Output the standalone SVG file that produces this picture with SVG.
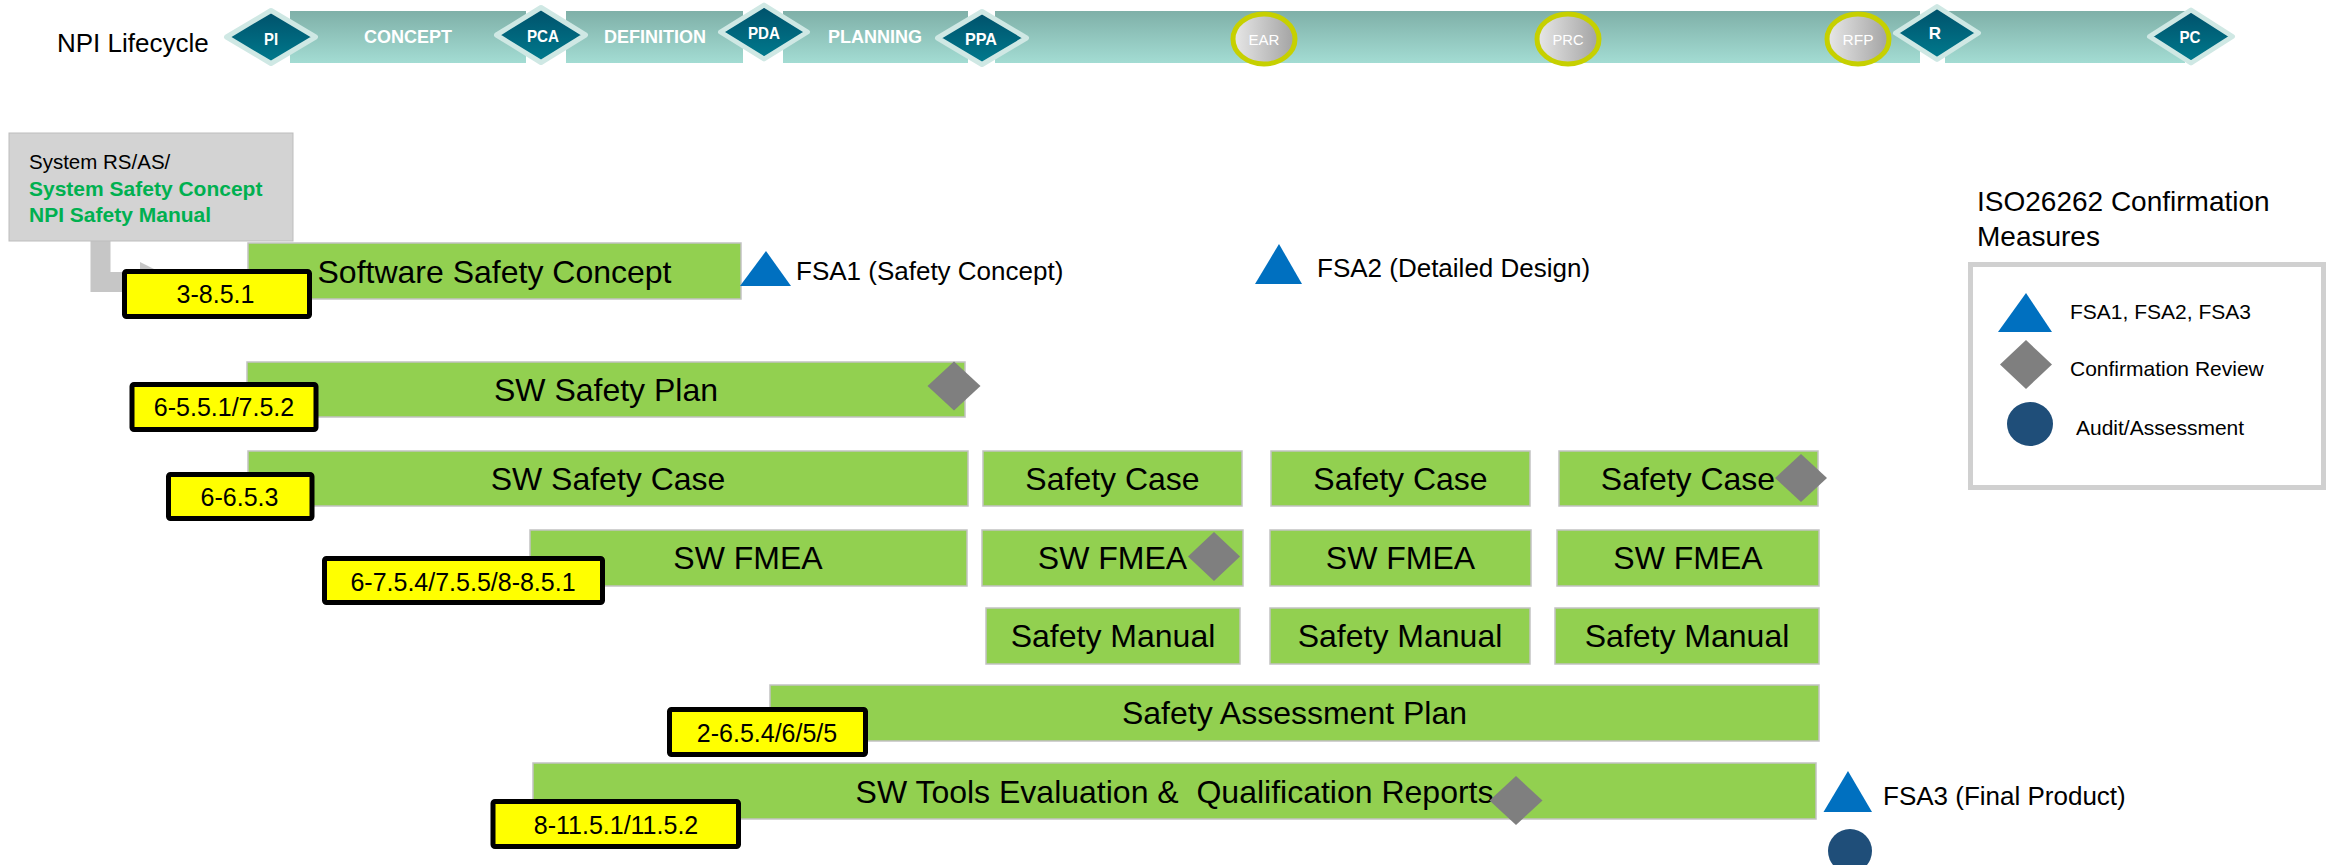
<svg xmlns="http://www.w3.org/2000/svg" width="2328" height="865" viewBox="0 0 2328 865">
  <defs>
    <linearGradient id="band" x1="0" y1="0" x2="0" y2="1">
      <stop offset="0" stop-color="#7fb0a8"/>
      <stop offset="1" stop-color="#a3dcd3"/>
    </linearGradient>
    <linearGradient id="dia" x1="0" y1="0" x2="0" y2="1">
      <stop offset="0" stop-color="#00506a"/>
      <stop offset="1" stop-color="#007b8e"/>
    </linearGradient>
    <linearGradient id="gate" x1="0" y1="0" x2="1" y2="0">
      <stop offset="0" stop-color="#e8e8e8"/>
      <stop offset="1" stop-color="#a2a2a2"/>
    </linearGradient>
    <marker id="blockArrow" markerUnits="userSpaceOnUse" markerWidth="40" markerHeight="40" viewBox="0 0 40 40" refX="0" refY="20" orient="auto">
      <path d="M0,0 L40,20 L0,40 z" fill="#c6c6c6"/>
    </marker>
    <style>
      text { font-family: "Liberation Sans", Arial, sans-serif; }
      .band { fill: url(#band); }
      .ms { fill: url(#dia); stroke: #cfe8e4; stroke-width: 5; stroke-linejoin: round; }
      .msl { font-size: 17px; font-weight: bold; fill: #ffffff; text-anchor: middle; }
      .phase { font-size: 18px; font-weight: bold; fill: #ffffff; text-anchor: middle; }
      .gate { fill: url(#gate); stroke: #c6d000; stroke-width: 5; }
      .gl { font-size: 15px; fill: #ffffff; text-anchor: middle; }
      .bar { fill: #92d050; stroke: #c2c2c2; stroke-width: 1.5; }
      .bt { font-size: 32px; fill: #000000; text-anchor: middle; }
      .tag { fill: #ffff00; stroke: #000000; stroke-width: 5; stroke-linejoin: round; }
      .tt { font-size: 25px; fill: #000000; text-anchor: middle; }
      .cr { fill: #7f7f7f; }
      .fsa { fill: #0070c0; }
      .aud { fill: #1f4e79; }
      .note { font-size: 26px; fill: #000000; }
      .leg { font-size: 21px; fill: #000000; }
    </style>
  </defs>

  <rect width="2328" height="865" fill="#ffffff"/>

  <!-- lifecycle timeline -->
  <g id="lifecycle">
    <text x="57" y="52" font-size="26">NPI Lifecycle</text>
    <rect class="band" x="290" y="11" width="236" height="52"/>
    <rect class="band" x="566" y="11" width="177" height="52"/>
    <rect class="band" x="783" y="11" width="185" height="52"/>
    <rect class="band" x="995" y="11" width="925" height="52"/>
    <rect class="band" x="1945" y="11" width="240" height="52"/>
    <text class="phase" x="408" y="43">CONCEPT</text>
    <text class="phase" x="655" y="43">DEFINITION</text>
    <text class="phase" x="875" y="43">PLANNING</text>

    <g id="ms-pi"><path class="ms" d="M226.5,37 L271,10.5 L315.5,37 L271,63.5 z"/><text class="msl" x="271" y="45" textLength="14" lengthAdjust="spacingAndGlyphs">PI</text></g>
    <g id="ms-pca"><path class="ms" d="M496.5,35 L541,7.5 L585.5,35 L541,62.5 z"/><text class="msl" x="543" y="42" textLength="32" lengthAdjust="spacingAndGlyphs">PCA</text></g>
    <g id="ms-pda"><path class="ms" d="M720.5,32 L764,5 L807.5,32 L764,59 z"/><text class="msl" x="764" y="39" textLength="32" lengthAdjust="spacingAndGlyphs">PDA</text></g>
    <g id="ms-ppa"><path class="ms" d="M937.5,38 L982,11.5 L1026.5,38 L982,64.5 z"/><text class="msl" x="981" y="45" textLength="32" lengthAdjust="spacingAndGlyphs">PPA</text></g>

    <g id="gate-ear"><ellipse class="gate" cx="1264" cy="39" rx="31" ry="25"/><text class="gl" x="1264" y="45" textLength="31" lengthAdjust="spacingAndGlyphs">EAR</text></g>
    <g id="gate-prc"><ellipse class="gate" cx="1568" cy="39" rx="31" ry="25"/><text class="gl" x="1568" y="45" textLength="31" lengthAdjust="spacingAndGlyphs">PRC</text></g>
    <g id="gate-rfp"><ellipse class="gate" cx="1858" cy="39" rx="31" ry="25"/><text class="gl" x="1858" y="45" textLength="31" lengthAdjust="spacingAndGlyphs">RFP</text></g>

    <g id="ms-r"><path class="ms" d="M1895.5,33 L1937,6.5 L1978.5,33 L1937,59.5 z"/><text class="msl" x="1935" y="39">R</text></g>
    <g id="ms-pc"><path class="ms" d="M2149.5,36.5 L2191,10 L2232.5,36.5 L2191,63 z"/><text class="msl" x="2190" y="43" textLength="21" lengthAdjust="spacingAndGlyphs">PC</text></g>
  </g>

  <!-- connectors -->
  <g id="connectors">
    <path d="M100.5,241 V282 H140" fill="none" stroke="#c6c6c6" stroke-width="20" stroke-linejoin="miter" marker-end="url(#blockArrow)"/>
  </g>

  <!-- system-level inputs -->
  <g id="system-inputs">
    <rect x="9" y="133" width="284" height="108" fill="#d3d3d3" stroke="#bdbdbd" stroke-width="1"/>
    <text x="29" y="169" font-size="20.5" fill="#000000">System RS/AS/</text>
    <text x="29" y="196" font-size="21" font-weight="bold" fill="#00b050">System Safety Concept</text>
    <text x="29" y="222" font-size="21" font-weight="bold" fill="#00b050">NPI Safety Manual</text>
  </g>

  <!-- work products -->
  <g id="sw-safety-concept">
    <rect class="bar" x="248" y="243" width="493" height="56"/>
    <text class="bt" x="494.5" y="283">Software Safety Concept</text>
  </g>
  <g id="sw-safety-plan">
    <rect class="bar" x="247" y="362" width="718" height="55"/>
    <text class="bt" x="606" y="401">SW Safety Plan</text>
  </g>
  <g id="sw-safety-case">
    <rect class="bar" x="248" y="451" width="720" height="55"/>
    <text class="bt" x="608" y="490">SW Safety Case</text>
  </g>
  <g id="sw-fmea">
    <rect class="bar" x="530" y="530" width="437" height="56"/>
    <text class="bt" x="748" y="569">SW FMEA</text>
  </g>
  <g id="safety-case-1">
    <rect class="bar" x="983" y="451" width="259" height="55"/>
    <text class="bt" x="1112.5" y="490">Safety Case</text>
  </g>
  <g id="safety-case-2">
    <rect class="bar" x="1271" y="451" width="259" height="55"/>
    <text class="bt" x="1400.5" y="490">Safety Case</text>
  </g>
  <g id="safety-case-3">
    <rect class="bar" x="1559" y="451" width="259" height="55"/>
    <text class="bt" x="1688" y="490">Safety Case</text>
  </g>
  <g id="sw-fmea-1">
    <rect class="bar" x="982" y="530" width="261" height="56"/>
    <text class="bt" x="1112.5" y="569">SW FMEA</text>
  </g>
  <g id="sw-fmea-2">
    <rect class="bar" x="1270" y="530" width="261" height="56"/>
    <text class="bt" x="1400.5" y="569">SW FMEA</text>
  </g>
  <g id="sw-fmea-3">
    <rect class="bar" x="1557" y="530" width="262" height="56"/>
    <text class="bt" x="1688" y="569">SW FMEA</text>
  </g>
  <g id="safety-manual-1">
    <rect class="bar" x="986" y="608" width="254" height="56"/>
    <text class="bt" x="1113" y="647">Safety Manual</text>
  </g>
  <g id="safety-manual-2">
    <rect class="bar" x="1270" y="608" width="260" height="56"/>
    <text class="bt" x="1400" y="647">Safety Manual</text>
  </g>
  <g id="safety-manual-3">
    <rect class="bar" x="1555" y="608" width="264" height="56"/>
    <text class="bt" x="1687" y="647">Safety Manual</text>
  </g>
  <g id="safety-assessment-plan">
    <rect class="bar" x="770" y="685" width="1049" height="56"/>
    <text class="bt" x="1294.5" y="724">Safety Assessment Plan</text>
  </g>
  <g id="sw-tools">
    <rect class="bar" x="533" y="763" width="1283" height="56"/>
    <text class="bt" x="1174.5" y="803" xml:space="preserve">SW Tools Evaluation &amp;  Qualification Reports</text>
  </g>

  <!-- ISO 26262 clause references -->
  <g id="ref-3-8-5-1">
    <rect class="tag" x="124.5" y="271.5" width="185" height="45" rx="2"/>
    <text class="tt" x="215.5" y="303">3-8.5.1</text>
  </g>
  <g id="ref-6-5-5-1">
    <rect class="tag" x="132" y="384.5" width="184" height="45" rx="2"/>
    <text class="tt" x="224" y="416">6-5.5.1/7.5.2</text>
  </g>
  <g id="ref-6-6-5-3">
    <rect class="tag" x="168.5" y="474.5" width="143.5" height="44" rx="2"/>
    <text class="tt" x="239.5" y="506">6-6.5.3</text>
  </g>
  <g id="ref-6-7-5-4">
    <rect class="tag" x="324.5" y="558.5" width="278" height="44" rx="2"/>
    <text class="tt" x="463" y="591">6-7.5.4/7.5.5/8-8.5.1</text>
  </g>
  <g id="ref-2-6-5-4">
    <rect class="tag" x="669.5" y="709.5" width="196" height="45" rx="2"/>
    <text class="tt" x="767" y="742">2-6.5.4/6/5/5</text>
  </g>
  <g id="ref-8-11-5-1">
    <rect class="tag" x="493" y="801.5" width="245.5" height="45" rx="2"/>
    <text class="tt" x="616" y="834">8-11.5.1/11.5.2</text>
  </g>

  <!-- confirmation measures on the timeline -->
  <g id="fsa1">
    <polygon class="fsa" points="740,286 766,251 791,286"/>
    <text class="note" x="796" y="280">FSA1 (Safety Concept)</text>
  </g>
  <g id="fsa2">
    <polygon class="fsa" points="1255,284 1279,244 1302,284"/>
    <text class="note" x="1317" y="277">FSA2 (Detailed Design)</text>
  </g>
  <g id="fsa3">
    <polygon class="fsa" points="1823.5,812 1848,771 1872,812"/>
    <text class="note" x="1883" y="805">FSA3 (Final Product)</text>
  </g>
  <g id="audit">
    <ellipse class="aud" cx="1850" cy="851" rx="22" ry="22"/>
  </g>
  <g id="cr-plan"><path class="cr" d="M927.5,386 L954,361.5 L980.5,386 L954,410.5 z"/></g>
  <g id="cr-fmea"><path class="cr" d="M1188,556.5 L1214,532 L1240,556.5 L1214,581 z"/></g>
  <g id="cr-case"><path class="cr" d="M1775,478 L1801,454 L1827,478 L1801,502 z"/></g>
  <g id="cr-tools"><path class="cr" d="M1489.5,800.5 L1516,776 L1542.5,800.5 L1516,825 z"/></g>

  <!-- legend -->
  <g id="legend">
    <text x="1977" y="211" font-size="28">ISO26262 Confirmation</text>
    <text x="1977" y="246" font-size="28">Measures</text>
    <rect x="1970.5" y="264.5" width="353" height="223" fill="#ffffff" stroke="#d0d0d0" stroke-width="5"/>
    <polygon class="fsa" points="1998,332 2026,293 2052,332"/>
    <text class="leg" x="2070" y="319">FSA1, FSA2, FSA3</text>
    <path class="cr" d="M2000,364.5 L2026,340 L2052,364.5 L2026,389 z"/>
    <text class="leg" x="2070" y="376">Confirmation Review</text>
    <ellipse class="aud" cx="2030" cy="424" rx="23" ry="22"/>
    <text class="leg" x="2076" y="435">Audit/Assessment</text>
  </g>
</svg>
